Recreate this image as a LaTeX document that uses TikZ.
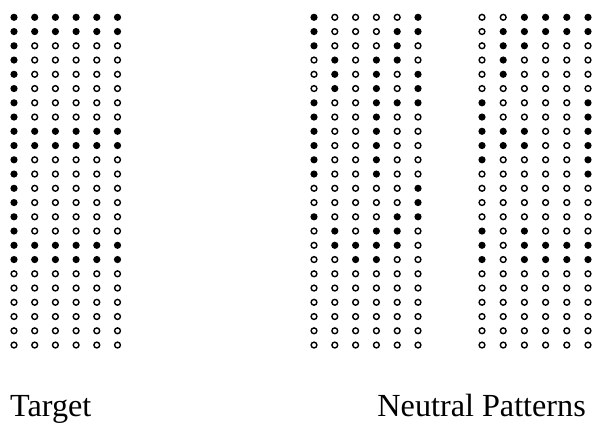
\documentclass[tikz,border=0pt]{standalone}
\usepackage{fontspec}
\setmainfont{Liberation Serif}

% row geometry shared by all three panels
\newcommand\rtop{17.3}
\newcommand\rstep{14.25}

% #1 = x of first column, #2 = column step, #3 = rows (1 = filled, 0 = open)
\newcommand\drawpattern[3]{%
  \foreach \rowbits [count=\j from 0] in {#3} {
    \foreach \bit [count=\i from 0] in \rowbits {
      \pgfmathsetmacro\px{#1+\i*#2}
      \pgfmathsetmacro\py{\rtop+\j*\rstep}
      \ifnum\bit=1
        \fill[dotfilled] (\px pt,-\py pt) circle (3.6pt);
      \else
        \draw[dotopen] (\px pt,-\py pt) circle (2.9pt);
      \fi
    }
  }
}

\begin{document}
\begin{tikzpicture}[
  dotfilled/.style={fill=black},
  dotopen/.style={draw=black, line width=1.4pt},
  lbl/.style={inner sep=0pt, font=\fontsize{32.2}{38}\selectfont}
]
\useasboundingbox[fill=white] (0pt,0pt) rectangle (593pt,-430pt);

% target pattern
\drawpattern{14}{20.7}{
  {1,1,1,1,1,1},{1,1,1,1,1,1},
  {1,0,0,0,0,0},{1,0,0,0,0,0},{1,0,0,0,0,0},{1,0,0,0,0,0},{1,0,0,0,0,0},{1,0,0,0,0,0},
  {1,1,1,1,1,1},{1,1,1,1,1,1},
  {1,0,0,0,0,0},{1,0,0,0,0,0},{1,0,0,0,0,0},{1,0,0,0,0,0},{1,0,0,0,0,0},{1,0,0,0,0,0},
  {1,1,1,1,1,1},{1,1,1,1,1,1},
  {0,0,0,0,0,0},{0,0,0,0,0,0},{0,0,0,0,0,0},{0,0,0,0,0,0},{0,0,0,0,0,0},{0,0,0,0,0,0}}

% first neutral pattern
\drawpattern{314}{20.8}{
  {1,0,0,0,0,1},{1,0,0,0,1,1},{1,0,0,0,1,0},{0,1,0,1,1,0},
  {0,1,0,1,0,1},{0,1,0,1,0,1},{1,0,0,1,1,1},{1,0,0,1,0,0},
  {1,0,0,1,0,0},{1,0,0,1,0,0},{1,0,0,1,0,0},{1,0,0,1,0,0},
  {0,0,0,0,0,1},{0,0,0,0,0,1},{1,0,0,0,1,1},{0,1,0,1,1,0},
  {0,1,1,1,1,0},{0,0,1,1,0,0},
  {0,0,0,0,0,0},{0,0,0,0,0,0},{0,0,0,0,0,0},{0,0,0,0,0,0},{0,0,0,0,0,0},{0,0,0,0,0,0}}

% second neutral pattern
\drawpattern{482}{21.2}{
  {0,0,1,1,1,1},{0,1,1,1,1,1},{0,1,1,0,0,0},{0,1,0,0,0,0},
  {0,1,0,0,0,0},{0,0,0,0,0,0},{1,0,0,0,0,1},{1,0,0,0,0,1},
  {1,1,1,0,0,1},{1,1,1,0,0,1},{1,0,0,0,0,1},{0,0,0,0,0,1},
  {0,0,0,0,0,0},{0,0,0,0,0,0},{0,0,0,0,0,0},{1,0,1,0,0,0},
  {1,0,1,1,1,1},{1,0,1,1,1,1},
  {0,0,0,0,0,0},{0,0,0,0,0,0},{0,0,0,0,0,0},{0,0,0,0,0,0},{0,0,0,0,0,0},{0,0,0,0,0,0}}

\node[lbl, anchor=base west] (target) at (10pt,-416pt) {Target};
\node[lbl, anchor=base east] (neutral) at (586pt,-416pt) {Neutral Patterns};
\end{tikzpicture}
\end{document}
